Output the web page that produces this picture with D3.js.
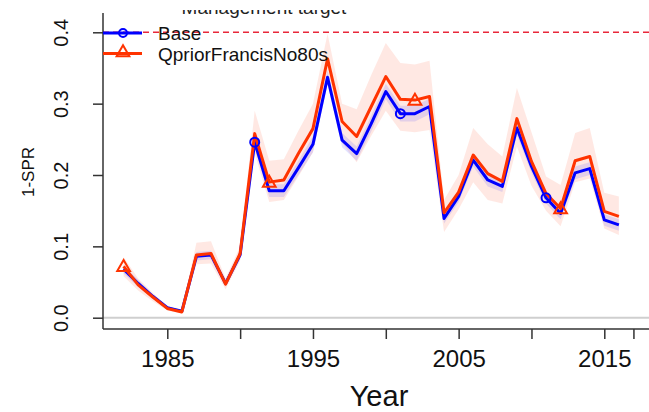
<!DOCTYPE html>
<html>
<head>
<meta charset="utf-8">
<script src="https://cdn.jsdelivr.net/npm/d3@7"></script>
<style>
  body { margin: 0; background: #fff; }
  svg { display: block; font-family: "Liberation Sans", Arial, sans-serif; }
</style>
</head>
<body>
<svg id="svg" width="649" height="412"></svg>
<script>
// years 1982 - 2016
const years = d3.range(1982, 2017);

const baseVals = [0.068, 0.048, 0.030, 0.014, 0.009, 0.086, 0.088, 0.048, 0.088, 0.246,
                  0.178, 0.178, 0.210, 0.243, 0.337, 0.249, 0.230, 0.272, 0.317, 0.286,
                  0.286, 0.296, 0.139, 0.170, 0.221, 0.193, 0.184, 0.266, 0.212, 0.168,
                  0.146, 0.203, 0.209, 0.137, 0.130];
const baseHi = [0.074, 0.053, 0.033, 0.016, 0.010, 0.092, 0.094, 0.052, 0.094, 0.255,
                0.187, 0.187, 0.220, 0.254, 0.347, 0.259, 0.240, 0.283, 0.328, 0.297,
                0.297, 0.307, 0.146, 0.178, 0.230, 0.202, 0.192, 0.276, 0.221, 0.176,
                0.154, 0.212, 0.218, 0.145, 0.138];
const baseLo = [0.062, 0.043, 0.027, 0.012, 0.008, 0.080, 0.082, 0.044, 0.082, 0.237,
                0.169, 0.169, 0.200, 0.232, 0.327, 0.239, 0.220, 0.261, 0.306, 0.275,
                0.275, 0.285, 0.132, 0.162, 0.212, 0.184, 0.176, 0.256, 0.203, 0.160,
                0.138, 0.194, 0.200, 0.129, 0.122];

const qpVals = [0.072, 0.046, 0.029, 0.013, 0.008, 0.088, 0.090, 0.047, 0.090, 0.258,
                0.190, 0.193, 0.230, 0.265, 0.363, 0.275, 0.254, 0.296, 0.338, 0.306,
                0.305, 0.310, 0.147, 0.176, 0.228, 0.202, 0.191, 0.279, 0.219, 0.174,
                0.153, 0.220, 0.226, 0.149, 0.142];
const qpHi = [0.085, 0.055, 0.035, 0.016, 0.010, 0.105, 0.107, 0.055, 0.100, 0.290,
              0.220, 0.222, 0.262, 0.300, 0.398, 0.300, 0.292, 0.340, 0.385, 0.357,
              0.355, 0.360, 0.165, 0.200, 0.266, 0.243, 0.226, 0.322, 0.260, 0.198,
              0.186, 0.259, 0.266, 0.175, 0.170];
const qpLo = [0.058, 0.038, 0.023, 0.010, 0.006, 0.075, 0.076, 0.040, 0.080, 0.230,
              0.162, 0.165, 0.198, 0.232, 0.330, 0.245, 0.218, 0.255, 0.290, 0.262,
              0.260, 0.263, 0.120, 0.152, 0.190, 0.165, 0.160, 0.240, 0.185, 0.150,
              0.128, 0.190, 0.195, 0.125, 0.116];

const baseMarkYears = [1991, 2001, 2011];
const qpMarkYears = [1982, 1992, 2002, 2012];

const xTicks = [1985, 1990, 1995, 2000, 2005, 2010, 2015, 2017];
const xLabels = [1985, 1995, 2005, 2015];
const yTicks = [0, 0.1, 0.2, 0.3, 0.4];
const target = 0.4;

const blue = '#0000ff';
const red = '#ff3300';

const svg = d3.select('#svg');
const W = 649, H = 412;

const xScale = d3.scaleLinear().domain([1985, 2015]).range([167.3, 604.3]);
const yScale = d3.scaleLinear().domain([0, 0.4]).range([317.7, 32.3]);

const axisX = 103, axisY = 329;

// management target text (top clipped in original)
svg.append('clipPath').attr('id', 'topclip')
    .append('rect').attr('x', 0).attr('y', 10).attr('width', W).attr('height', 30);
svg.append('text')
    .attr('clip-path', 'url(#topclip)')
    .attr('x', 264).attr('y', 14)
    .attr('text-anchor', 'middle')
    .attr('font-size', 19)
    .attr('fill', '#222')
    .text('Management target');

// zero reference line
svg.append('line')
    .attr('x1', axisX).attr('x2', W)
    .attr('y1', yScale(0)).attr('y2', yScale(0))
    .attr('stroke', '#cfcfcf').attr('stroke-width', 2);

// target line
svg.append('line')
    .attr('x1', axisX).attr('x2', W)
    .attr('y1', yScale(target)).attr('y2', yScale(target))
    .attr('stroke', '#e8283a').attr('stroke-width', 1.5)
    .attr('stroke-dasharray', '6,4');

const area = function(hi, lo) {
    return d3.area()
        .x(function(d, i) { return xScale(years[i]); })
        .y0(function(d, i) { return yScale(lo[i]); })
        .y1(function(d, i) { return yScale(hi[i]); })(years);
};
const line = function(vals) {
    return d3.line()
        .x(function(d, i) { return xScale(years[i]); })
        .y(function(d, i) { return yScale(vals[i]); })(years);
};

svg.append('path').attr('d', area(qpHi, qpLo))
    .attr('fill', 'rgba(255,110,80,0.16)');
svg.append('path').attr('d', area(baseHi, baseLo))
    .attr('fill', 'rgba(60,60,255,0.14)');

svg.append('path').attr('d', line(baseVals))
    .attr('fill', 'none').attr('stroke', blue).attr('stroke-width', 3)
    .attr('stroke-linejoin', 'round');
svg.append('path').attr('d', line(qpVals))
    .attr('fill', 'none').attr('stroke', red).attr('stroke-width', 3)
    .attr('stroke-linejoin', 'round');

const tri = d3.symbol().type(d3.symbolTriangle).size(70);

svg.selectAll('circle.bm').data(baseMarkYears).enter()
    .append('circle').classed('bm', true)
    .attr('cx', function(d) { return xScale(d); })
    .attr('cy', function(d) { return yScale(baseVals[years.indexOf(d)]); })
    .attr('r', 4.5)
    .attr('fill', 'none').attr('stroke', blue).attr('stroke-width', 2);

svg.selectAll('path.qm').data(qpMarkYears).enter()
    .append('path').classed('qm', true)
    .attr('d', tri)
    .attr('transform', function(d) {
        return 'translate(' + xScale(d) + ',' + (yScale(qpVals[years.indexOf(d)]) + 1) + ')';
    })
    .attr('fill', 'none').attr('stroke', red).attr('stroke-width', 2);

// axes
const xAxis = svg.append('g')
    .attr('transform', 'translate(0,' + axisY + ')')
    .call(d3.axisBottom(xScale).tickValues(xTicks).tickSize(10).tickSizeOuter(0)
        .tickFormat(function(d) { return xLabels.indexOf(d) >= 0 ? d : ''; }));
xAxis.select('.domain').attr('d', 'M' + axisX + ',0H' + W).attr('stroke', '#333').attr('stroke-width', 1.5);
xAxis.selectAll('.tick line').attr('stroke', '#333').attr('stroke-width', 1.5);
xAxis.selectAll('.tick text')
    .attr('font-family', '"Liberation Sans", Arial, sans-serif')
    .attr('font-size', 24).attr('fill', '#111')
    .attr('dy', null).attr('y', 38);

const yAxis = svg.append('g')
    .attr('transform', 'translate(' + axisX + ',0)')
    .call(d3.axisLeft(yScale).tickValues(yTicks).tickSize(10).tickSizeOuter(0)
        .tickFormat(d3.format('.1f')));
yAxis.select('.domain').attr('d', 'M0,13V' + axisY).attr('stroke', '#333').attr('stroke-width', 1.5);
yAxis.selectAll('.tick line').attr('stroke', '#333').attr('stroke-width', 1.5);
yAxis.selectAll('.tick text')
    .attr('font-family', '"Liberation Sans", Arial, sans-serif')
    .attr('font-size', 20).attr('fill', '#111')
    .attr('text-anchor', 'middle')
    .attr('x', null).attr('dy', null)
    .attr('transform', 'translate(-35,0) rotate(-90)');

// axis titles
svg.append('text')
    .attr('transform', 'translate(34,172) rotate(-90)')
    .attr('text-anchor', 'middle')
    .attr('font-size', 17).attr('fill', '#111')
    .text('1-SPR');
svg.append('text')
    .attr('x', 379).attr('y', 406)
    .attr('text-anchor', 'middle')
    .attr('font-size', 29).attr('fill', '#111')
    .text('Year');

// legend
const legend = [
    {name: 'Base', color: blue, mark: 'circle'},
    {name: 'QpriorFrancisNo80s', color: red, mark: 'tri'}
];
const lg = svg.append('g');
legend.forEach(function(d, i) {
    const ly = 33 + i * 20.5;
    lg.append('line').attr('x1', 103).attr('x2', 142).attr('y1', ly).attr('y2', ly)
        .attr('stroke', d.color).attr('stroke-width', 3);
    if (d.mark === 'circle') {
        lg.append('circle').attr('cx', 123).attr('cy', ly).attr('r', 4)
            .attr('fill', 'none').attr('stroke', d.color).attr('stroke-width', 2);
    } else {
        lg.append('path').attr('d', tri)
            .attr('transform', 'translate(123,' + (ly - 1) + ')')
            .attr('fill', 'none').attr('stroke', d.color).attr('stroke-width', 2);
    }
    lg.append('text').attr('x', 158).attr('y', ly + 7)
        .attr('font-size', 19).attr('fill', '#111')
        .text(d.name);
});
</script>
</body>
</html>
